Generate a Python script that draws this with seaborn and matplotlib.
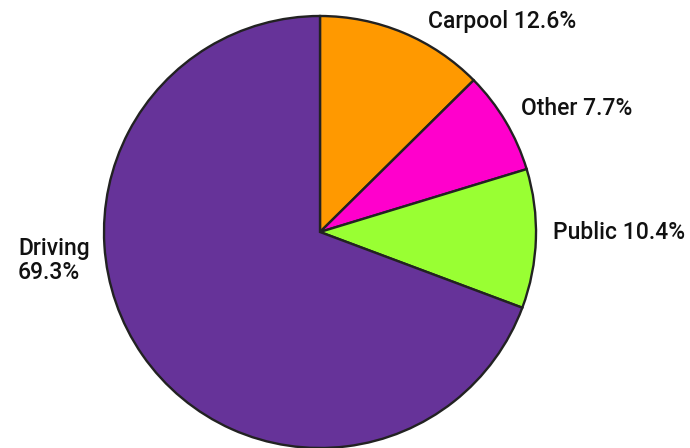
import matplotlib
matplotlib.use("Agg")
import matplotlib.pyplot as plt
import seaborn as sns

categories = ["Carpool", "Other", "Public", "Driving"]
shares = [12.6, 7.7, 10.4, 69.3]
colors = ["#FF9900", "#FF00CC", "#99FF33", "#663399"]
label_texts = ["Carpool 12.6%", "Other 7.7%", "Public 10.4%", "Driving\n69.3%"]

sns.set_theme(style="white")
plt.rcParams["font.family"] = ["Roboto", "DejaVu Sans"]

fig = plt.figure(figsize=(6.9, 4.48), dpi=100)
# pie centre at (320, 232) px, radius 216 px
ax = fig.add_axes([104 / 690, 0.0, 432 / 690, 432 / 448])

ax.pie(
    shares,
    colors=colors,
    startangle=90,
    counterclock=False,
    radius=1.0,
    wedgeprops={"edgecolor": "#222222", "linewidth": 1.7},
)
ax.set_xlim(-1, 1)
ax.set_ylim(-1, 1)
ax.set_aspect("equal")
ax.axis("off")

# label anchors (left edge, vertical centre) in data units
label_pos = [(0.50, 0.975), (0.93, 0.574), (1.079, 0.0), (-1.398, -0.13)]
for text, (x, y) in zip(label_texts, label_pos):
    ax.text(x, y, text, ha="left", va="center", fontsize=16.5,
            fontweight="medium", color="#111111", linespacing=1.05,
            clip_on=False)

fig.savefig("out.png", dpi=100)
